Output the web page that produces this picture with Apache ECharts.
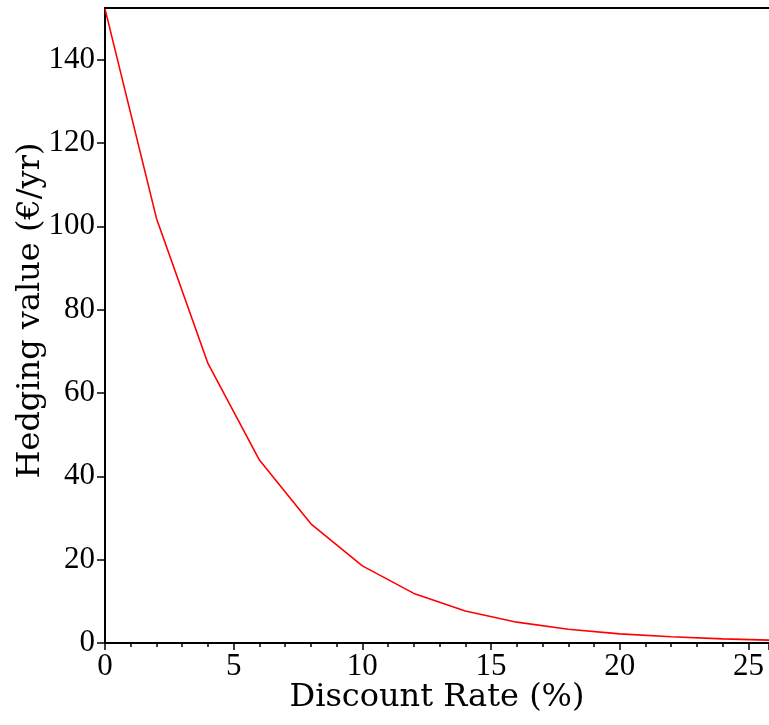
<!DOCTYPE html>
<html>
<head>
<meta charset="utf-8">
<script src="https://cdn.jsdelivr.net/npm/echarts@6/dist/echarts.min.js"></script>
<style>html,body{margin:0;padding:0;background:#fff}#c{width:769px;height:725px}</style>
</head>
<body>
<div id="c"></div>
<script>
const discountRate = [0, 2, 4, 6, 8, 10, 12, 14, 16, 18, 20, 22, 24, 25.8];
const hedgingValue = [152.2, 101.9, 67.1, 43.9, 28.6, 18.5, 11.9, 7.7, 5.0, 3.3, 2.2, 1.5, 1.0, 0.7];
const xTicks = [0, 5, 10, 15, 20, 25];
const yTicks = [0, 20, 40, 60, 80, 100, 120, 140];
const xLabel = 'Discount Rate (%)';
const yLabel = 'Hedging value (€/yr)';

const chart = echarts.init(document.getElementById('c'));
const tickFont = {fontFamily: 'Liberation Serif', fontSize: 31, color: '#000'};
const nameFont = {fontFamily: 'DejaVu Serif', fontSize: 32, color: '#000'};
chart.setOption({
  animation: false,
  grid: {left: 105, right: 0, top: 8, bottom: 82, containLabel: false, outerBoundsMode: 'none'},
  xAxis: [{
    type: 'value', min: 0, max: 25.8, interval: 5,
    name: xLabel, nameLocation: 'middle', nameGap: 39, nameMoveOverlap: false, nameTextStyle: nameFont,
    axisLine: {lineStyle: {color: '#000', width: 2}},
    axisTick: {show: true, inside: false, length: 7, lineStyle: {color: '#000', width: 1.5}},
    minorTick: {show: true, splitNumber: 5, length: 4, lineStyle: {color: '#000', width: 1.5}},
    splitLine: {show: false},
    axisLabel: Object.assign({margin: 8, showMaxLabel: false,
      formatter: v => xTicks.includes(v) ? String(v) : ''}, tickFont)
  }, {
    type: 'value', min: 0, max: 25.8, position: 'top',
    axisLine: {show: true, onZero: false, lineStyle: {color: '#000', width: 2}},
    axisTick: {show: false}, axisLabel: {show: false}, splitLine: {show: false}
  }],
  yAxis: {
    type: 'value', min: 0, max: 152.4, interval: 20,
    name: yLabel, nameLocation: 'middle', nameGap: 58, nameMoveOverlap: false,
    nameTextStyle: Object.assign({padding: [0, 0, 0, 30]}, nameFont),
    axisLine: {show: true, lineStyle: {color: '#000', width: 2}},
    axisTick: {show: true, inside: false, length: 8, lineStyle: {color: '#000', width: 1.5}},
    splitLine: {show: false},
    axisLabel: Object.assign({margin: 10, showMaxLabel: false,
      formatter: v => yTicks.includes(v) ? String(v) : ''}, tickFont)
  },
  series: [{
    type: 'line', xAxisIndex: 0,
    data: discountRate.map((x, i) => [x, hedgingValue[i]]),
    showSymbol: false, symbol: 'none',
    lineStyle: {color: '#ff0000', width: 1.6}
  }]
});
</script>
</body>
</html>
